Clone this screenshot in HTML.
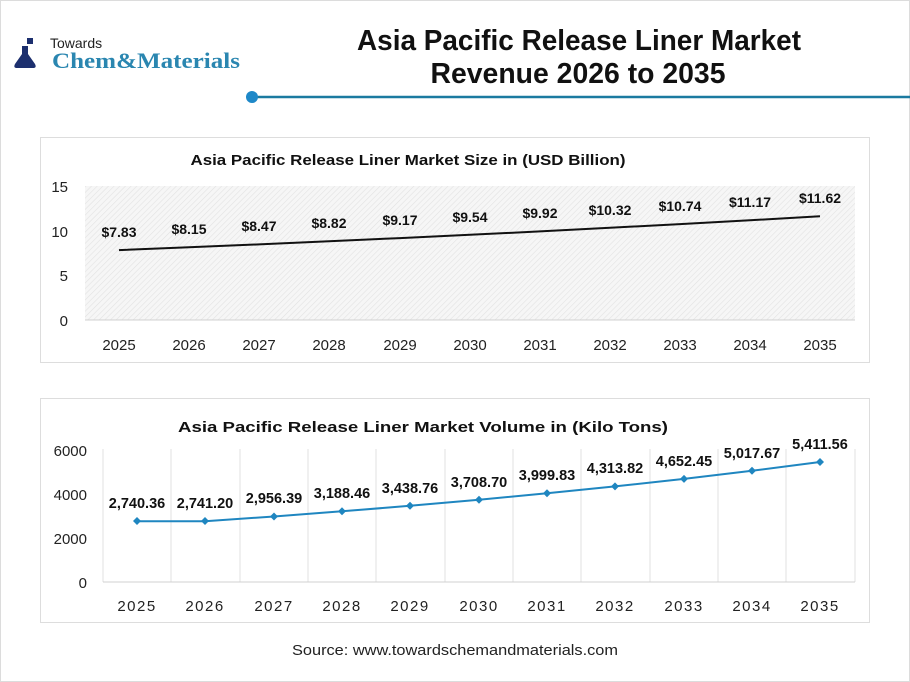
<!DOCTYPE html>
<html><head><meta charset="utf-8"><style>
body{margin:0;background:#fff}
svg{display:block;font-family:"Liberation Sans",sans-serif}
</style></head><body>
<svg width="910" height="682" viewBox="0 0 910 682" xmlns="http://www.w3.org/2000/svg">
<defs>
<pattern id="hatch" width="4" height="4" patternUnits="userSpaceOnUse" patternTransform="rotate(45)">
<rect width="4" height="4" fill="#f6f6f6"/><line x1="0" y1="0" x2="0" y2="4" stroke="#e2e2e2" stroke-width="1.2"/>
</pattern>
</defs>
<rect x="0.5" y="0.5" width="909" height="681" fill="#fff" stroke="#dcdcdc"/>
<g>
<path d="M22 46 h6 v8 l7 10 q2 4 -2 4 h-16 q-4 0 -2 -4 l7 -10z" fill="#1c2f6e"/>
<rect x="27" y="38" width="6" height="6" fill="#1c2f6e"/>
<text x="50" y="48" font-size="14" fill="#222">Towards</text>
<text x="52" y="68" font-size="22" font-weight="bold" fill="#2a86b0" font-family="Liberation Serif,serif" textLength="188" lengthAdjust="spacingAndGlyphs">Chem&amp;Materials</text>
</g>
<text x="579" y="50" font-size="29" font-weight="bold" text-anchor="middle" fill="#111" textLength="444" lengthAdjust="spacingAndGlyphs">Asia Pacific Release Liner Market</text>
<text x="578" y="83" font-size="29" font-weight="bold" text-anchor="middle" fill="#111" textLength="295" lengthAdjust="spacingAndGlyphs">Revenue 2026 to 2035</text>
<line x1="252" y1="97" x2="910" y2="97" stroke="#1b7aa0" stroke-width="2.5"/>
<circle cx="252" cy="97" r="6" fill="#1e88c8"/>

<rect x="40.5" y="137.5" width="829" height="225" fill="#fff" stroke="#ddd"/>
<text x="408" y="165" font-size="15" font-weight="bold" text-anchor="middle" fill="#111" textLength="435" lengthAdjust="spacingAndGlyphs">Asia Pacific Release Liner Market Size in (USD Billion)</text>
<rect x="85" y="186" width="770" height="134" fill="url(#hatch)"/>
<line x1="85" y1="320" x2="855" y2="320" stroke="#d0d0d0"/>
<g font-size="15" fill="#222" text-anchor="end">
<text x="68" y="192">15</text><text x="68" y="237">10</text><text x="68" y="281">5</text><text x="68" y="326">0</text>
</g>
<g font-size="15" fill="#222" text-anchor="middle">
<text x="119" y="350">2025</text><text x="189" y="350">2026</text><text x="259" y="350">2027</text><text x="329" y="350">2028</text><text x="400" y="350">2029</text><text x="470" y="350">2030</text><text x="540" y="350">2031</text><text x="610" y="350">2032</text><text x="680" y="350">2033</text><text x="750" y="350">2034</text><text x="820" y="350">2035</text>
</g>
<polyline fill="none" stroke="#111" stroke-width="2" points="119,250.1 189,247.2 259,244.4 329,241.2 400,238.1 470,234.8 540,231.4 610,227.8 680,224.1 750,220.3 820,216.2"/>
<g font-size="14" font-weight="bold" fill="#111" text-anchor="middle">
<text x="119" y="237">$7.83</text><text x="189" y="234">$8.15</text><text x="259" y="231">$8.47</text><text x="329" y="228">$8.82</text><text x="400" y="225">$9.17</text><text x="470" y="222">$9.54</text><text x="540" y="218">$9.92</text><text x="610" y="215">$10.32</text><text x="680" y="211">$10.74</text><text x="750" y="207">$11.17</text><text x="820" y="203">$11.62</text>
</g>

<rect x="40.5" y="398.5" width="829" height="224" fill="#fff" stroke="#ddd"/>
<text x="423" y="432" font-size="15" font-weight="bold" text-anchor="middle" fill="#111" textLength="490" lengthAdjust="spacingAndGlyphs">Asia Pacific Release Liner Market Volume in (Kilo Tons)</text>
<g stroke="#e0e0e0" stroke-width="1">
<line x1="103" y1="449" x2="103" y2="582"/><line x1="171" y1="449" x2="171" y2="582"/><line x1="240" y1="449" x2="240" y2="582"/><line x1="308" y1="449" x2="308" y2="582"/><line x1="376" y1="449" x2="376" y2="582"/><line x1="445" y1="449" x2="445" y2="582"/><line x1="513" y1="449" x2="513" y2="582"/><line x1="581" y1="449" x2="581" y2="582"/><line x1="650" y1="449" x2="650" y2="582"/><line x1="718" y1="449" x2="718" y2="582"/><line x1="786" y1="449" x2="786" y2="582"/><line x1="855" y1="449" x2="855" y2="582"/>
<line x1="103" y1="582" x2="855" y2="582" stroke="#d0d0d0"/>
</g>
<g font-size="15" fill="#222" text-anchor="end">
<text x="87" y="456">6000</text><text x="87" y="500">4000</text><text x="87" y="544">2000</text><text x="87" y="588">0</text>
</g>
<g font-size="15" fill="#222" text-anchor="middle" letter-spacing="1.5">
<text x="137" y="611">2025</text><text x="205" y="611">2026</text><text x="274" y="611">2027</text><text x="342" y="611">2028</text><text x="410" y="611">2029</text><text x="479" y="611">2030</text><text x="547" y="611">2031</text><text x="615" y="611">2032</text><text x="684" y="611">2033</text><text x="752" y="611">2034</text><text x="820" y="611">2035</text>
</g>
<polyline fill="none" stroke="#1f86c0" stroke-width="2" points="137,521.2 205,521.2 274,516.5 342,511.3 410,505.8 479,499.8 547,493.3 615,486.4 684,478.9 752,470.8 820,462.0"/>
<g fill="#1f86c0">
<path d="M137 517l4 4-4 4-4-4z"/><path d="M205 517l4 4-4 4-4-4z"/><path d="M274 512.5l4 4-4 4-4-4z"/><path d="M342 507.3l4 4-4 4-4-4z"/><path d="M410 501.8l4 4-4 4-4-4z"/><path d="M479 495.8l4 4-4 4-4-4z"/><path d="M547 489.3l4 4-4 4-4-4z"/><path d="M615 482.4l4 4-4 4-4-4z"/><path d="M684 474.9l4 4-4 4-4-4z"/><path d="M752 466.8l4 4-4 4-4-4z"/><path d="M820 458l4 4-4 4-4-4z"/>
</g>
<g font-size="14.5" font-weight="bold" fill="#111" text-anchor="middle">
<text x="137" y="508">2,740.36</text><text x="205" y="508">2,741.20</text><text x="274" y="503">2,956.39</text><text x="342" y="498">3,188.46</text><text x="410" y="493">3,438.76</text><text x="479" y="487">3,708.70</text><text x="547" y="480">3,999.83</text><text x="615" y="473">4,313.82</text><text x="684" y="466">4,652.45</text><text x="752" y="458">5,017.67</text><text x="820" y="449">5,411.56</text>
</g>

<text x="455" y="655" font-size="15" text-anchor="middle" fill="#222" textLength="326" lengthAdjust="spacingAndGlyphs">Source: www.towardschemandmaterials.com</text>
</svg>
</body></html>
